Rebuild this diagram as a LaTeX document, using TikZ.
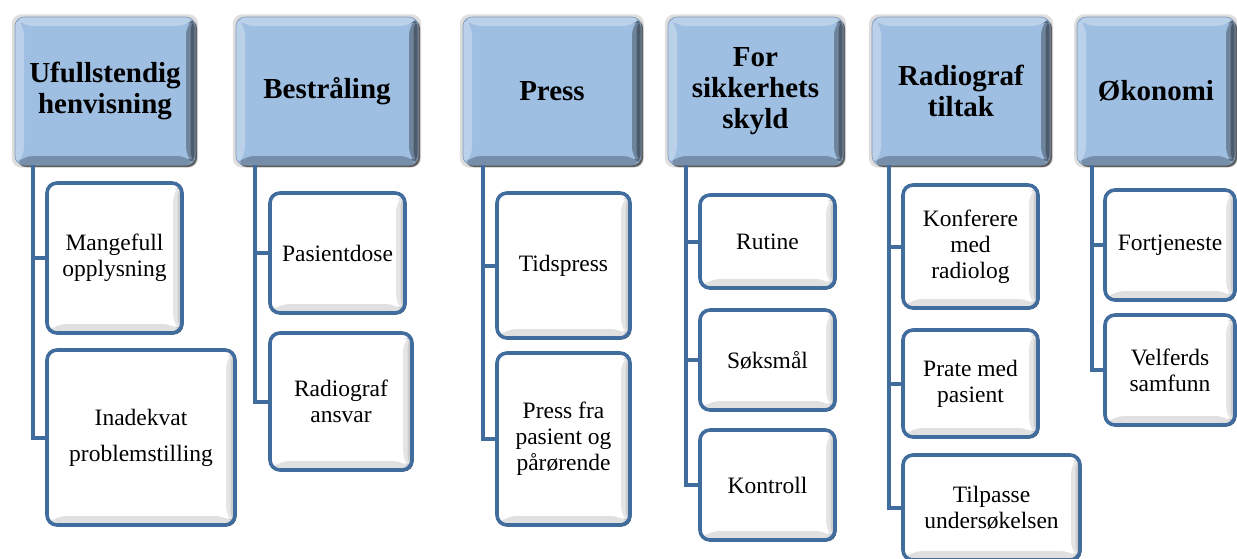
\documentclass[tikz,border=0pt]{standalone}
\usepackage{fontspec}
\setmainfont{Liberation Serif}
\usetikzlibrary{shadows}
\definecolor{hdrblue}{RGB}{158,190,226}
\definecolor{lineblue}{RGB}{65,108,158}
\tikzset{
	bevel/.style n args={4}{path picture={
		\coordinate (bnw) at (path picture bounding box.north west);
		\coordinate (bne) at (path picture bounding box.north east);
		\coordinate (bsw) at (path picture bounding box.south west);
		\coordinate (bse) at (path picture bounding box.south east);
		\fill[white, opacity=#4] (bnw) -- (bne) -- ([shift={(-#1,-#1)}]bne) -- ([shift={(#1,-#1)}]bnw) -- cycle;
		\fill[white, opacity=#4] (bnw) -- (bsw) -- ([shift={(#1,#1)}]bsw) -- ([shift={(#1,-#1)}]bnw) -- cycle;
		\fill[black, opacity=#3] (bsw) -- (bse) -- ([shift={(-#1,#1)}]bse) -- ([shift={(#1,#1)}]bsw) -- cycle;
		\fill[black, opacity=#2] (bne) -- (bse) -- ([shift={(-#1,#1)}]bse) -- ([shift={(-#1,-#1)}]bne) -- cycle;
		\fill[black, opacity=#2] ([yshift=-2pt]bne) -- ([yshift=2pt]bse) -- ([shift={(-0.5*#1,0.5*#1)}]bse) -- ([shift={(-0.5*#1,-0.5*#1)}]bne) -- cycle;
	}},
	hdr/.style={rounded corners=9pt, fill=hdrblue, draw=hdrblue!80!black, line width=0.6pt, minimum height=148pt,
		inner sep=2pt, align=center, font=\fontsize{29}{31}\selectfont\bfseries, bevel={9pt}{0.3}{0.25}{0.3},
		general shadow={fill=black!13, shadow scale=1.035},
		drop shadow={shadow xshift=2pt, shadow yshift=-2pt, fill=black!75, opacity=0.8}},
	item/.style={rounded corners=10pt, draw=lineblue, line width=3.6pt, fill=white, inner sep=2pt, align=center,
		font=\fontsize{23.5}{26}\selectfont, bevel={9pt}{0.1}{0.12}{0},
		drop shadow={shadow xshift=1.5pt, shadow yshift=-1.5pt, fill=lineblue!40!black, opacity=0.9}},
	link/.style={draw=lineblue, line width=4pt},
}

\begin{document}
\begin{tikzpicture}[x=1pt, y=-1pt]
			%%%%% START %%%%%
			\useasboundingbox (0, 0) rectangle (1237, 558);
			
			\node[hdr, minimum width=180pt] (h1) at (105, 91) {Ufullstendig\\henvisning};
			\node[hdr, minimum width=182pt] (h2) at (327, 91) {Bestråling};
			\node[hdr, minimum width=178pt] (h3) at (552, 91) {Press};
			\node[hdr, minimum width=175pt] (h4) at (755.5, 91) {For\\sikkerhets\\skyld};
			\node[hdr, minimum width=178pt] (h5) at (961, 91) {Radiograf\\tiltak};
			\node[hdr, minimum width=158pt] (h6) at (1156, 91) {Økonomi};
			
			\coordinate (s1) at ([xshift=18pt]h1.south west);
			\coordinate (s2) at ([xshift=19pt]h2.south west);
			\coordinate (s3) at ([xshift=20pt]h3.south west);
			\coordinate (s4) at ([xshift=18pt]h4.south west);
			\coordinate (s5) at ([xshift=17pt]h5.south west);
			\coordinate (s6) at ([xshift=15pt]h6.south west);
			
			\node[item, minimum width=135pt, minimum height=150pt] (c1a) at (114.5, 258) {Mangefull\\opplysning};
			\node[item, minimum width=188pt, minimum height=175pt] (c1b) at (141, 437.5) {Inadekvat\\[10pt]problemstilling};
			
			\node[item, minimum width=135pt, minimum height=120pt] (c2a) at (337.5, 253) {Pasientdose};
			\node[item, minimum width=142pt, minimum height=137pt] (c2b) at (341, 401.5) {Radiograf\\ansvar};
			
			\node[item, minimum width=133pt, minimum height=145pt] (c3a) at (563.5, 265.5) {Tidspress};
			\node[item, minimum width=133pt, minimum height=172pt] (c3b) at (563.5, 439) {Press fra\\pasient og\\pårørende};
			
			\node[item, minimum width=135pt, minimum height=93pt] (c4a) at (767.5, 241.5) {Rutine};
			\node[item, minimum width=135pt, minimum height=100pt] (c4b) at (767.5, 360) {Søksmål};
			\node[item, minimum width=135pt, minimum height=110pt] (c4c) at (767.5, 485) {Kontroll};
			
			\node[item, minimum width=135pt, minimum height=123pt] (c5a) at (970.5, 246.5) {Konferere\\med\\radiolog};
			\node[item, minimum width=135pt, minimum height=107pt] (c5b) at (970.5, 383.5) {Prate med\\pasient};
			\node[item, minimum width=177pt, minimum height=105pt] (c5c) at (991.5, 507.5) {Tilpasse\\undersøkelsen};
			
			\node[item, minimum width=130pt, minimum height=110pt] (c6a) at (1170, 245) {Fortjeneste};
			\node[item, minimum width=130pt, minimum height=110pt] (c6b) at (1170, 370) {Velferds\\samfunn};
			
			\foreach \kid in {c1a, c1b} \draw[link] (s1) |- (\kid.west);
			\foreach \kid in {c2a, c2b} \draw[link] (s2) |- (\kid.west);
			\foreach \kid in {c3a, c3b} \draw[link] (s3) |- (\kid.west);
			\foreach \kid in {c4a, c4b, c4c} \draw[link] (s4) |- (\kid.west);
			\foreach \kid in {c5a, c5b, c5c} \draw[link] (s5) |- (\kid.west);
			\foreach \kid in {c6a, c6b} \draw[link] (s6) |- (\kid.west);
			
			%%%%% END %%%%%
\end{tikzpicture}
\end{document}
